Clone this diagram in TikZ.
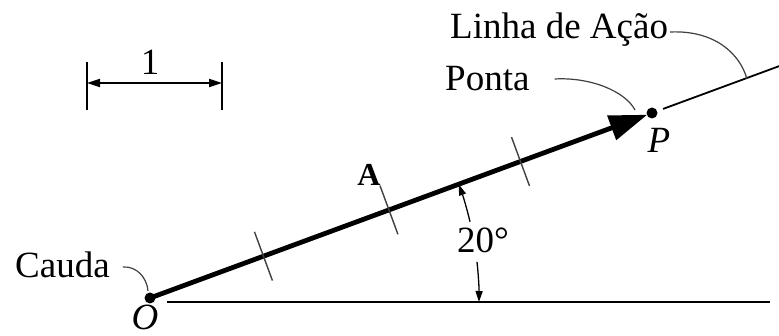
\documentclass[tikz,border=0pt]{standalone}
\usepackage{fontspec}
\setmainfont{Liberation Serif}
\usetikzlibrary{arrows.meta,calc}
\begin{document}
\begin{tikzpicture}[x=1pt,y=1pt,
  lbl/.style={inner sep=0pt,font=\fontsize{37}{40}\selectfont},
  thin line/.style={line width=1.2pt,black!75},
  tickmark/.style={line width=1.4pt,black!75},
  smallarrow/.style={-{Triangle[length=11pt,width=7pt]}},
]
\useasboundingbox (0,0) rectangle (779,336);
% main points
\coordinate (O) at (150,38);
\coordinate (P) at (652,223);
% horizontal reference line
\coordinate (h1) at (167,34);
\coordinate (h2) at (770,34);
\draw[line width=2pt] (h1) -- (h2);
% vector
\draw[line width=4.8pt,-{Triangle[length=38pt,width=25pt]},shorten >=5pt] (O) -- (P);
\fill (O) circle (5.5pt);
\fill (P) circle (5.5pt);
% tick marks along vector
\foreach \p/\n in {0.226/t1,0.476/t2,0.738/t3}{
  \coordinate (\n) at ($(O)!\p!(P)$);
  \draw[tickmark] ($(\n)!26pt!90:(P)$) -- ($(\n)!26pt!-90:(P)$);
}
% line of action
\coordinate (la1) at ($(O)!1.022!(P)$);
\coordinate (la2) at ($(O)!1.254!(P)$);
\draw[line width=1.8pt] (la1) -- (la2);
% labels
\node[lbl,anchor=base west] (linha) at (450,297) {Linha de Ação};
\node[lbl,anchor=base west] (ponta) at (445,245) {Ponta};
\node[lbl,anchor=base west] (cauda) at (15,58) {Cauda};
\node[lbl] (Olbl) at (145,19) {\itshape O};
\node[lbl] (Plbl) at (659,196) {\itshape P};
\node[inner sep=0pt,font=\fontsize{32}{34}\selectfont\bfseries] (Albl) at (369,161) {A};
\node[lbl] (ang) at (483,96) {20°};
% leaders
\coordinate (linhaEnd) at (747,257);
\coordinate (pontaEnd) at (635,226);
\coordinate (caudaEnd) at (148,45);
\draw[thin line] ($(linha.base east)+(2,7)$) .. controls (715,306) and (740,282) .. (linhaEnd);
\draw[thin line] ($(ponta.base east)+(25,12)$) .. controls (590,259) and (625,245) .. (pontaEnd);
\draw[thin line] ($(cauda.base east)+(13,11)$) .. controls (137,70) and (147,58) .. (caudaEnd);
% angle arc
\draw[line width=1.3pt,smallarrow] ($(O)+(13.4:329)$) arc[start angle=13.4,end angle=20.2,radius=329];
\draw[line width=1.3pt,smallarrow] ($(O)+(6.3:329)$) arc[start angle=6.3,end angle=-0.7,radius=329];
% scale bar
\coordinate (s1t) at (87,274);
\coordinate (s1b) at (87,226);
\coordinate (s2t) at (222,274);
\coordinate (s2b) at (222,226);
\draw[line width=1.6pt] (s1t) -- (s1b);
\draw[line width=1.6pt] (s2t) -- (s2b);
\coordinate (sa) at (87,253);
\coordinate (sb) at (222,253);
\draw[line width=1.8pt,{Triangle[length=13pt,width=8pt]}-{Triangle[length=13pt,width=8pt]}] (sa) -- (sb);
\node[lbl] (one) at (150,274) {1};
\end{tikzpicture}
\end{document}
